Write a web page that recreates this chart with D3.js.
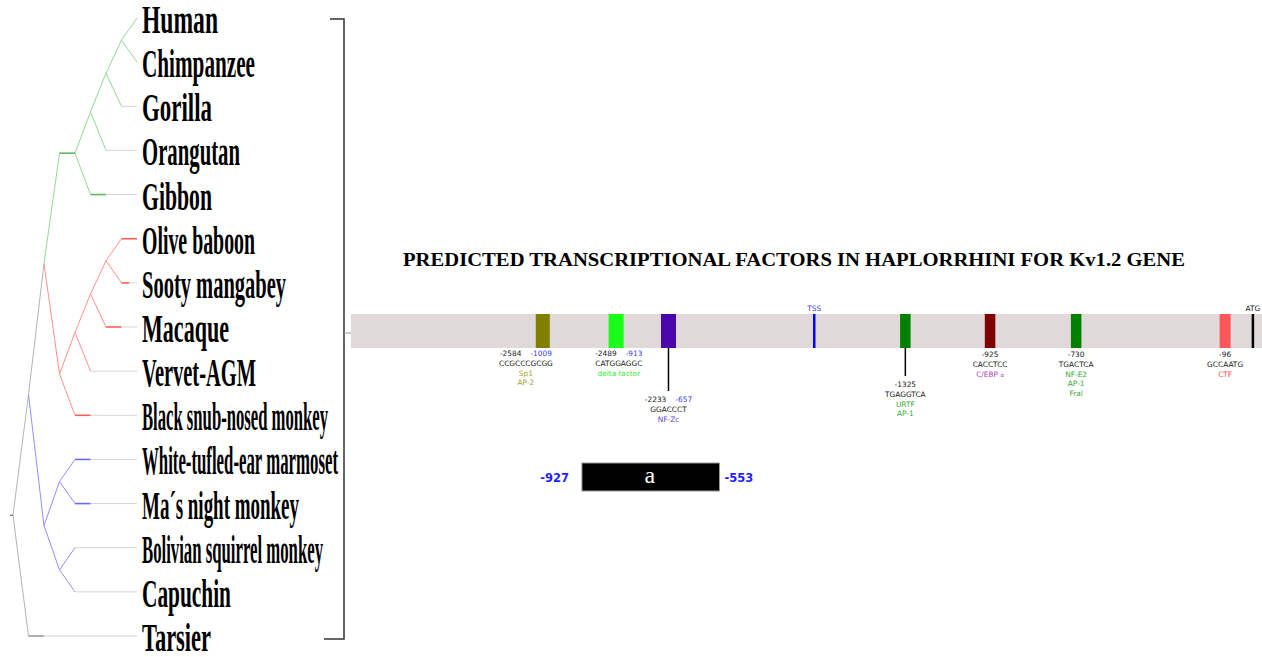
<!DOCTYPE html>
<html>
<head>
<meta charset="utf-8">
<script src="https://cdn.jsdelivr.net/npm/d3@7"></script>
<style>
  body { margin: 0; background: #fff; }
  svg { display: block; }
</style>
</head>
<body>
<svg id="chart" width="1262" height="657"></svg>
<script>
// ---------- Phylogeny of the haplorrhine primates ----------
// [node, parent] pairs, children listed top to bottom
const treeLinks = [
  ["Haplorrhini", ""],
  ["Anthropoidea", "Haplorrhini"],
  ["Catarrhini", "Anthropoidea"],
  ["Hominoidea", "Catarrhini"],
  ["Hominidae", "Hominoidea"],
  ["Homininae", "Hominidae"],
  ["Hominini", "Homininae"],
  ["Human", "Hominini"],
  ["Chimpanzee", "Hominini"],
  ["Gorilla", "Homininae"],
  ["Orangutan", "Hominidae"],
  ["Gibbon", "Hominoidea"],
  ["Cercopithecidae", "Catarrhini"],
  ["Cercopithecinae", "Cercopithecidae"],
  ["Papionini", "Cercopithecinae"],
  ["Papionina", "Papionini"],
  ["Olive baboon", "Papionina"],
  ["Sooty mangabey", "Papionina"],
  ["Macaque", "Papionini"],
  ["Vervet-AGM", "Cercopithecinae"],
  ["Black snub-nosed monkey", "Cercopithecidae"],
  ["Platyrrhini", "Anthropoidea"],
  ["Callitrichidae-Aotidae", "Platyrrhini"],
  ["White-tufled-ear marmoset", "Callitrichidae-Aotidae"],
  ["Ma´s night monkey", "Callitrichidae-Aotidae"],
  ["Cebidae", "Platyrrhini"],
  ["Bolivian squirrel monkey", "Cebidae"],
  ["Capuchin", "Cebidae"],
  ["Tarsier", "Haplorrhini"]
];

// Species, top to bottom
const species = [
  "Human", "Chimpanzee", "Gorilla", "Orangutan", "Gibbon",
  "Olive baboon", "Sooty mangabey", "Macaque", "Vervet-AGM",
  "Black snub-nosed monkey", "White-tufled-ear marmoset",
  "Ma´s night monkey", "Bolivian squirrel monkey", "Capuchin", "Tarsier"
];

// Extra branch length (in tree levels) on internal stems and terminal branches
const stemLevels = { "Hominoidea": 1 };
const tailLevels = {
  "Gibbon": 1, "Olive baboon": 1, "Sooty mangabey": 0.5, "Macaque": 1,
  "Black snub-nosed monkey": 1, "White-tufled-ear marmoset": 1,
  "Ma´s night monkey": 1, "Tarsier": 1
};

// Clades that carry their own colour
const cladeNames = ["Hominoidea", "Cercopithecidae", "Platyrrhini"];

// ---------- Kv1.2 promoter ----------
const chartTitle = "PREDICTED TRANSCRIPTIONAL FACTORS IN HAPLORRHINI FOR Kv1.2 GENE";

// Binding sites along the promoter (position in % of drawn length)
const siteNames     = ["Sp1", "delta factor", "NF-Zc", "URTF", "C/EBP", "NF-E2", "CTF"];
const sitePos       = [21.05, 29.1, 34.85, 60.85, 70.15, 79.6, 95.95];
const siteLabelPos  = [19.2, 29.4, 34.85, 60.85, 70.15, 79.6, 95.95];
const siteStart     = ["-2584", "-2489", "-2233", "-1325", "-925", "-730", "-96"];
const siteAltStart  = ["-1009", "-913", "-657", "", "", "", ""];
const siteSequence  = ["CCGCCCGCGG", "CATGGAGGC", "GGACCCT", "TGAGGTCA", "CACCTCC", "TGACTCA", "GCCAATG"];
const siteFactors   = [["Sp1", "AP-2"], ["delta factor"], ["NF-Zc"], ["URTF", "AP-1"], ["C/EBP"], ["NF-E2", "AP-1", "Fral"], ["CTF"]];
const siteDropLine  = [false, false, true, true, false, false, false];

// Landmarks on the promoter
const markNames = ["TSS", "ATG"];
const markPos   = [50.85, 99.0];

// Conserved region "a"
const regionName  = "a";
const regionStart = 25.35;
const regionEnd   = 40.45;
const regionFrom  = "-927";
const regionTo    = "-553";

// ---------- drawing ----------
const svg = d3.select("#chart");

// Tree layout
const root = d3.stratify()
  .id(d => d[0])
  .parentId(d => d[1] || null)(treeLinks);

root.eachBefore(n => {
  n.level = n.parent ? n.parent.level + (stemLevels[n.parent.id] || 0) + 1 : 0;
  let c = n;
  while (c && !cladeNames.includes(c.id)) c = c.parent;
  n.clade = c ? c.id : null;
});

const maxLevel = d3.max(root.leaves(), d => d.level);
const xTree = d3.scaleLinear().domain([0, maxLevel]).range([13, 137]);
const yTree = d3.scalePoint().domain(species).range([18, 636]);

root.eachAfter(n => {
  if (!n.children) n.y = yTree(n.id);
  else n.y = (n.children[0].y + n.children[n.children.length - 1].y) / 2;
});

const linkColour = { "Hominoidea": "#94d994", "Cercopithecidae": "#ff8f8f", "Platyrrhini": "#9090ff" };
const tailColour = { "Hominoidea": "#5fba5f", "Cercopithecidae": "#ff5c5c", "Platyrrhini": "#6a6aff" };

const gTree = svg.append("g").attr("fill", "none");

// grey extensions running out to the labels
gTree.selectAll("line.ext")
  .data(root.leaves().filter(d => d.level + (tailLevels[d.id] || 0) < maxLevel))
  .join("line")
  .attr("x1", d => xTree(d.level + (tailLevels[d.id] || 0)))
  .attr("x2", xTree(maxLevel))
  .attr("y1", d => d.y).attr("y2", d => d.y)
  .attr("stroke", "#d4d4d4").attr("stroke-width", 1);

// slanted branches
gTree.selectAll("line.branch")
  .data(root.links())
  .join("line")
  .attr("x1", d => xTree(d.source.level + (stemLevels[d.source.id] || 0)))
  .attr("y1", d => d.source.y)
  .attr("x2", d => xTree(d.target.level))
  .attr("y2", d => d.target.y)
  .attr("stroke", d => d.target.clade ? linkColour[d.target.clade] : "#b4b4b4")
  .attr("stroke-width", 1);

// internal stems
gTree.selectAll("line.stem")
  .data(root.descendants().filter(d => stemLevels[d.id]))
  .join("line")
  .attr("x1", d => xTree(d.level))
  .attr("x2", d => xTree(d.level + stemLevels[d.id]))
  .attr("y1", d => d.y).attr("y2", d => d.y)
  .attr("stroke", d => tailColour[d.clade] || "#999")
  .attr("stroke-width", 1.6);

// terminal branch lengths
gTree.selectAll("line.tail")
  .data(root.leaves().filter(d => tailLevels[d.id]))
  .join("line")
  .attr("x1", d => xTree(d.level))
  .attr("x2", d => xTree(d.level + tailLevels[d.id]))
  .attr("y1", d => d.y).attr("y2", d => d.y)
  .attr("stroke", d => d.clade ? tailColour[d.clade] : "#9a9a9a")
  .attr("stroke-width", 1.6);

// root tick
gTree.append("line")
  .attr("x1", xTree(0) - 3).attr("x2", xTree(0))
  .attr("y1", root.y).attr("y2", root.y)
  .attr("stroke", "#555").attr("stroke-width", 1);

// species names, set in a tall condensed face
const nameWidth = {
  "Human": 76, "Chimpanzee": 113, "Gorilla": 70, "Orangutan": 98, "Gibbon": 70,
  "Olive baboon": 113, "Sooty mangabey": 144, "Macaque": 87, "Vervet-AGM": 114,
  "Black snub-nosed monkey": 186, "White-tufled-ear marmoset": 196,
  "Ma´s night monkey": 157, "Bolivian squirrel monkey": 181, "Capuchin": 89, "Tarsier": 69
};
svg.append("g").selectAll("text")
  .data(species)
  .join("text")
  .attr("x", xTree(maxLevel) + 5)
  .attr("y", d => yTree(d) + 15)
  .attr("textLength", d => nameWidth[d])
  .attr("lengthAdjust", "spacingAndGlyphs")
  .attr("font-family", "'Liberation Serif', 'Times New Roman', serif")
  .attr("font-weight", "bold")
  .attr("font-size", 41)
  .attr("fill", "#000")
  .text(d => d);

// bracket grouping the species
const bracketX = 344;
svg.append("path")
  .attr("d", `M330,${yTree(species[0]) + 1}H${bracketX}V${yTree(species[species.length - 1]) + 3}H324`)
  .attr("fill", "none").attr("stroke", "#333").attr("stroke-width", 1.5);

// Promoter
const xGene = d3.scaleLinear().domain([0, 100]).range([351, 1262]);
const barTop = 314, barBottom = 348;

svg.append("line")
  .attr("x1", bracketX).attr("x2", xGene(0))
  .attr("y1", 333).attr("y2", 333)
  .attr("stroke", "#999").attr("stroke-width", 1);

svg.append("rect")
  .attr("x", xGene(0)).attr("y", barTop)
  .attr("width", xGene(100) - xGene(0)).attr("height", barBottom - barTop)
  .attr("fill", "#e0d9da");

svg.append("text")
  .attr("x", 794).attr("y", 266)
  .attr("text-anchor", "middle")
  .attr("textLength", 782)
  .attr("lengthAdjust", "spacingAndGlyphs")
  .attr("font-family", "'Liberation Serif', 'Times New Roman', serif")
  .attr("font-weight", "bold")
  .attr("font-size", 19.5)
  .text(chartTitle);

const siteFill  = ["#808000", "#19ff19", "#4a06a8", "#008000", "#800000", "#008000", "#ff5757"];
const siteText  = ["#a3a32a", "#33ee33", "#6a3fcf", "#3aa83a", "#ad45b5", "#3aa83a", "#ff4545"];
const siteWidth = [14, 15, 15, 10.5, 10.5, 10.5, 11];
const labelTop  = [356, 356, 402, 387, 357, 357, 357];
const lineStep  = 9.8;
const small = { family: "'DejaVu Sans', Verdana, sans-serif", size: 7.4 };

const sites = siteNames.map((name, i) => ({ i, name }));

const gSites = svg.append("g");

gSites.selectAll("line.drop")
  .data(sites.filter(d => siteDropLine[d.i]))
  .join("line")
  .attr("x1", d => xGene(sitePos[d.i])).attr("x2", d => xGene(sitePos[d.i]))
  .attr("y1", barBottom).attr("y2", d => labelTop[d.i] - 11)
  .attr("stroke", "#000").attr("stroke-width", 1.5);

gSites.selectAll("rect")
  .data(sites)
  .join("rect")
  .attr("x", d => xGene(sitePos[d.i]) - siteWidth[d.i] / 2)
  .attr("y", barTop)
  .attr("width", d => siteWidth[d.i])
  .attr("height", barBottom - barTop)
  .attr("fill", d => siteFill[d.i]);

// site annotations
sites.forEach(d => {
  const cx = xGene(siteLabelPos[d.i]);
  const y0 = labelTop[d.i];
  const g = gSites.append("g")
    .attr("font-family", small.family)
    .attr("font-size", small.size)
    .attr("text-anchor", "middle");

  const pos = g.append("text").attr("x", cx).attr("y", y0).attr("fill", "#222");
  pos.append("tspan").text(siteStart[d.i]);
  if (siteAltStart[d.i]) {
    pos.append("tspan").attr("dx", 9).attr("fill", "#3b3bff").text(siteAltStart[d.i]);
  }

  g.append("text").attr("x", cx).attr("y", y0 + lineStep)
    .attr("fill", "#222").text(siteSequence[d.i]);

  siteFactors[d.i].forEach((f, k) => {
    const t = g.append("text").attr("x", cx).attr("y", y0 + lineStep * (k + 2))
      .attr("fill", siteText[d.i]);
    if (f === "C/EBP") {
      t.append("tspan").text("C/EBP ");
      t.append("tspan").attr("font-size", small.size - 2).text("α");
    } else {
      t.text(f);
    }
  });
});

// TSS and ATG marks
const markColour = ["#0000ff", "#000000"];
const markText = ["#3b3bff", "#222"];
const gMarks = svg.append("g");
gMarks.selectAll("line")
  .data(markNames)
  .join("line")
  .attr("x1", (d, i) => xGene(markPos[i])).attr("x2", (d, i) => xGene(markPos[i]))
  .attr("y1", barTop).attr("y2", barBottom)
  .attr("stroke", (d, i) => markColour[i]).attr("stroke-width", 2.5);
gMarks.selectAll("text")
  .data(markNames)
  .join("text")
  .attr("x", (d, i) => xGene(markPos[i])).attr("y", 310.5)
  .attr("text-anchor", "middle")
  .attr("font-family", small.family).attr("font-size", small.size)
  .attr("fill", (d, i) => markText[i])
  .text(d => d);

// Conserved region box
const regY = 463, regH = 28;
svg.append("rect")
  .attr("x", xGene(regionStart)).attr("y", regY)
  .attr("width", xGene(regionEnd) - xGene(regionStart)).attr("height", regH)
  .attr("fill", "#000").attr("stroke", "#999").attr("stroke-width", 1);
svg.append("text")
  .attr("x", (xGene(regionStart) + xGene(regionEnd)) / 2 - 1).attr("y", regY + 20)
  .attr("text-anchor", "middle")
  .attr("font-family", "'Liberation Serif', 'Times New Roman', serif")
  .attr("font-size", 24).attr("fill", "#fff")
  .text(regionName);
const regFont = "'DejaVu Sans', Verdana, sans-serif";
svg.append("text")
  .attr("x", xGene(regionStart) - 13).attr("y", 482)
  .attr("text-anchor", "end")
  .attr("font-family", regFont).attr("font-weight", "bold").attr("font-size", 11.5)
  .attr("fill", "#1f1fff").text(regionFrom);
svg.append("text")
  .attr("x", xGene(regionEnd) + 5).attr("y", 482)
  .attr("text-anchor", "start")
  .attr("font-family", regFont).attr("font-weight", "bold").attr("font-size", 11.5)
  .attr("fill", "#1f1fff").text(regionTo);
</script>
</body>
</html>
